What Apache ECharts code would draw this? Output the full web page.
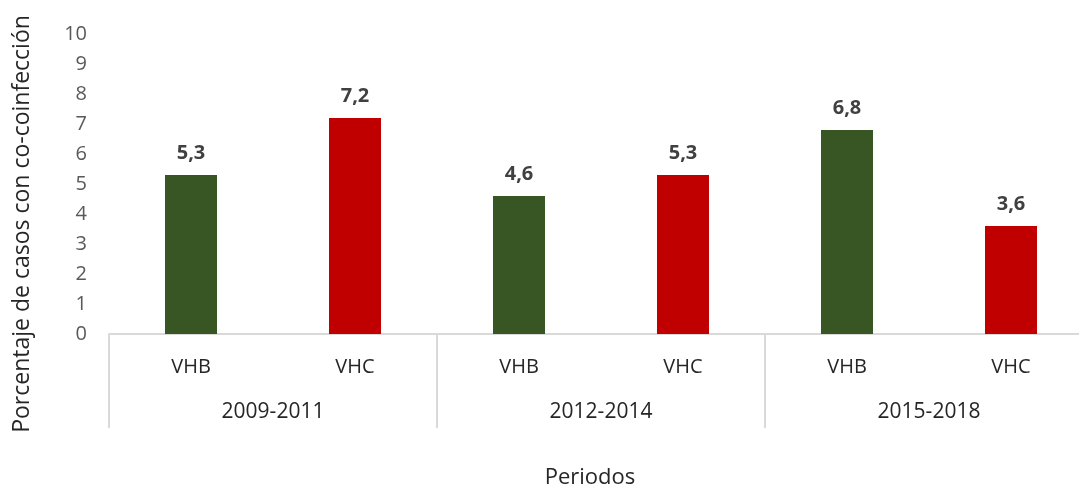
<!DOCTYPE html>
<html>
<head>
<meta charset="utf-8">
<script src="https://cdn.jsdelivr.net/npm/echarts@6/dist/echarts.min.js"></script>
<style>html,body{margin:0;padding:0;background:#fff;overflow:hidden}#c{width:1093px;height:488px}</style>
</head>
<body>
<div id="c"></div>
<script>
var categories = ['VHB', 'VHC', 'VHB', 'VHC', 'VHB', 'VHC'];
var periods = ['2009-2011', '2012-2014', '2015-2018'];
var values = [5.3, 7.2, 4.6, 5.3, 6.8, 3.6];
var yTicks = [0, 1, 2, 3, 4, 5, 6, 7, 8, 9, 10];
var colorByVirus = { VHB: '#375623', VHC: '#C00000' };

var font = 'Open Sans';
var chart = echarts.init(document.getElementById('c'), null, { renderer: 'canvas' });
chart.setOption({
  animation: false,
  textStyle: { fontFamily: font },
  grid: { left: 109, top: 34, right: 0, height: 300, outerBoundsMode: 'none', containLabel: false },
  xAxis: [
    {
      type: 'category',
      data: categories,
      axisLine: { show: true, lineStyle: { color: '#D9D9D9', width: 2 } },
      axisTick: { show: false },
      axisLabel: { color: '#262626', fontSize: 20, margin: 23, fontFamily: font }
    },
    {
      type: 'category',
      data: periods,
      position: 'bottom',
      boundaryGap: true,
      axisLine: { show: false },
      axisTick: { show: true, length: 94, lineStyle: { color: '#D9D9D9', width: 2 } },
      axisLabel: { color: '#262626', fontSize: 21, margin: 68, fontFamily: font }
    }
  ],
  yAxis: {
    type: 'value',
    min: yTicks[0],
    max: yTicks[yTicks.length - 1],
    interval: 1,
    axisLine: { show: false },
    axisTick: { show: false },
    splitLine: { show: false },
    axisLabel: { color: '#595959', fontSize: 20, margin: 22, fontFamily: font }
  },
  graphic: [{
    type: 'text',
    x: 22, y: 224,
    rotation: Math.PI / 2,
    style: {
      text: 'Porcentaje de casos con co-coinfección',
      fill: '#262626',
      font: '23px "' + font + '"',
      align: 'center',
      verticalAlign: 'middle'
    }
  }, {
    type: 'text',
    x: 590, y: 478,
    style: {
      text: 'Periodos',
      fill: '#262626',
      font: '22px "' + font + '"',
      align: 'center',
      verticalAlign: 'middle'
    }
  }],
  series: [{
    type: 'bar',
    xAxisIndex: 0,
    barWidth: 52,
    data: values.map(function (v, i) {
      return { value: v, itemStyle: { color: colorByVirus[categories[i]] } };
    }),
    label: {
      show: true,
      position: 'top',
      distance: 12,
      color: '#404040',
      fontSize: 20,
      fontWeight: 'bold',
      fontFamily: font,
      formatter: function (p) { return p.value.toFixed(1).replace('.', ','); }
    }
  }]
});
</script>
</body>
</html>
